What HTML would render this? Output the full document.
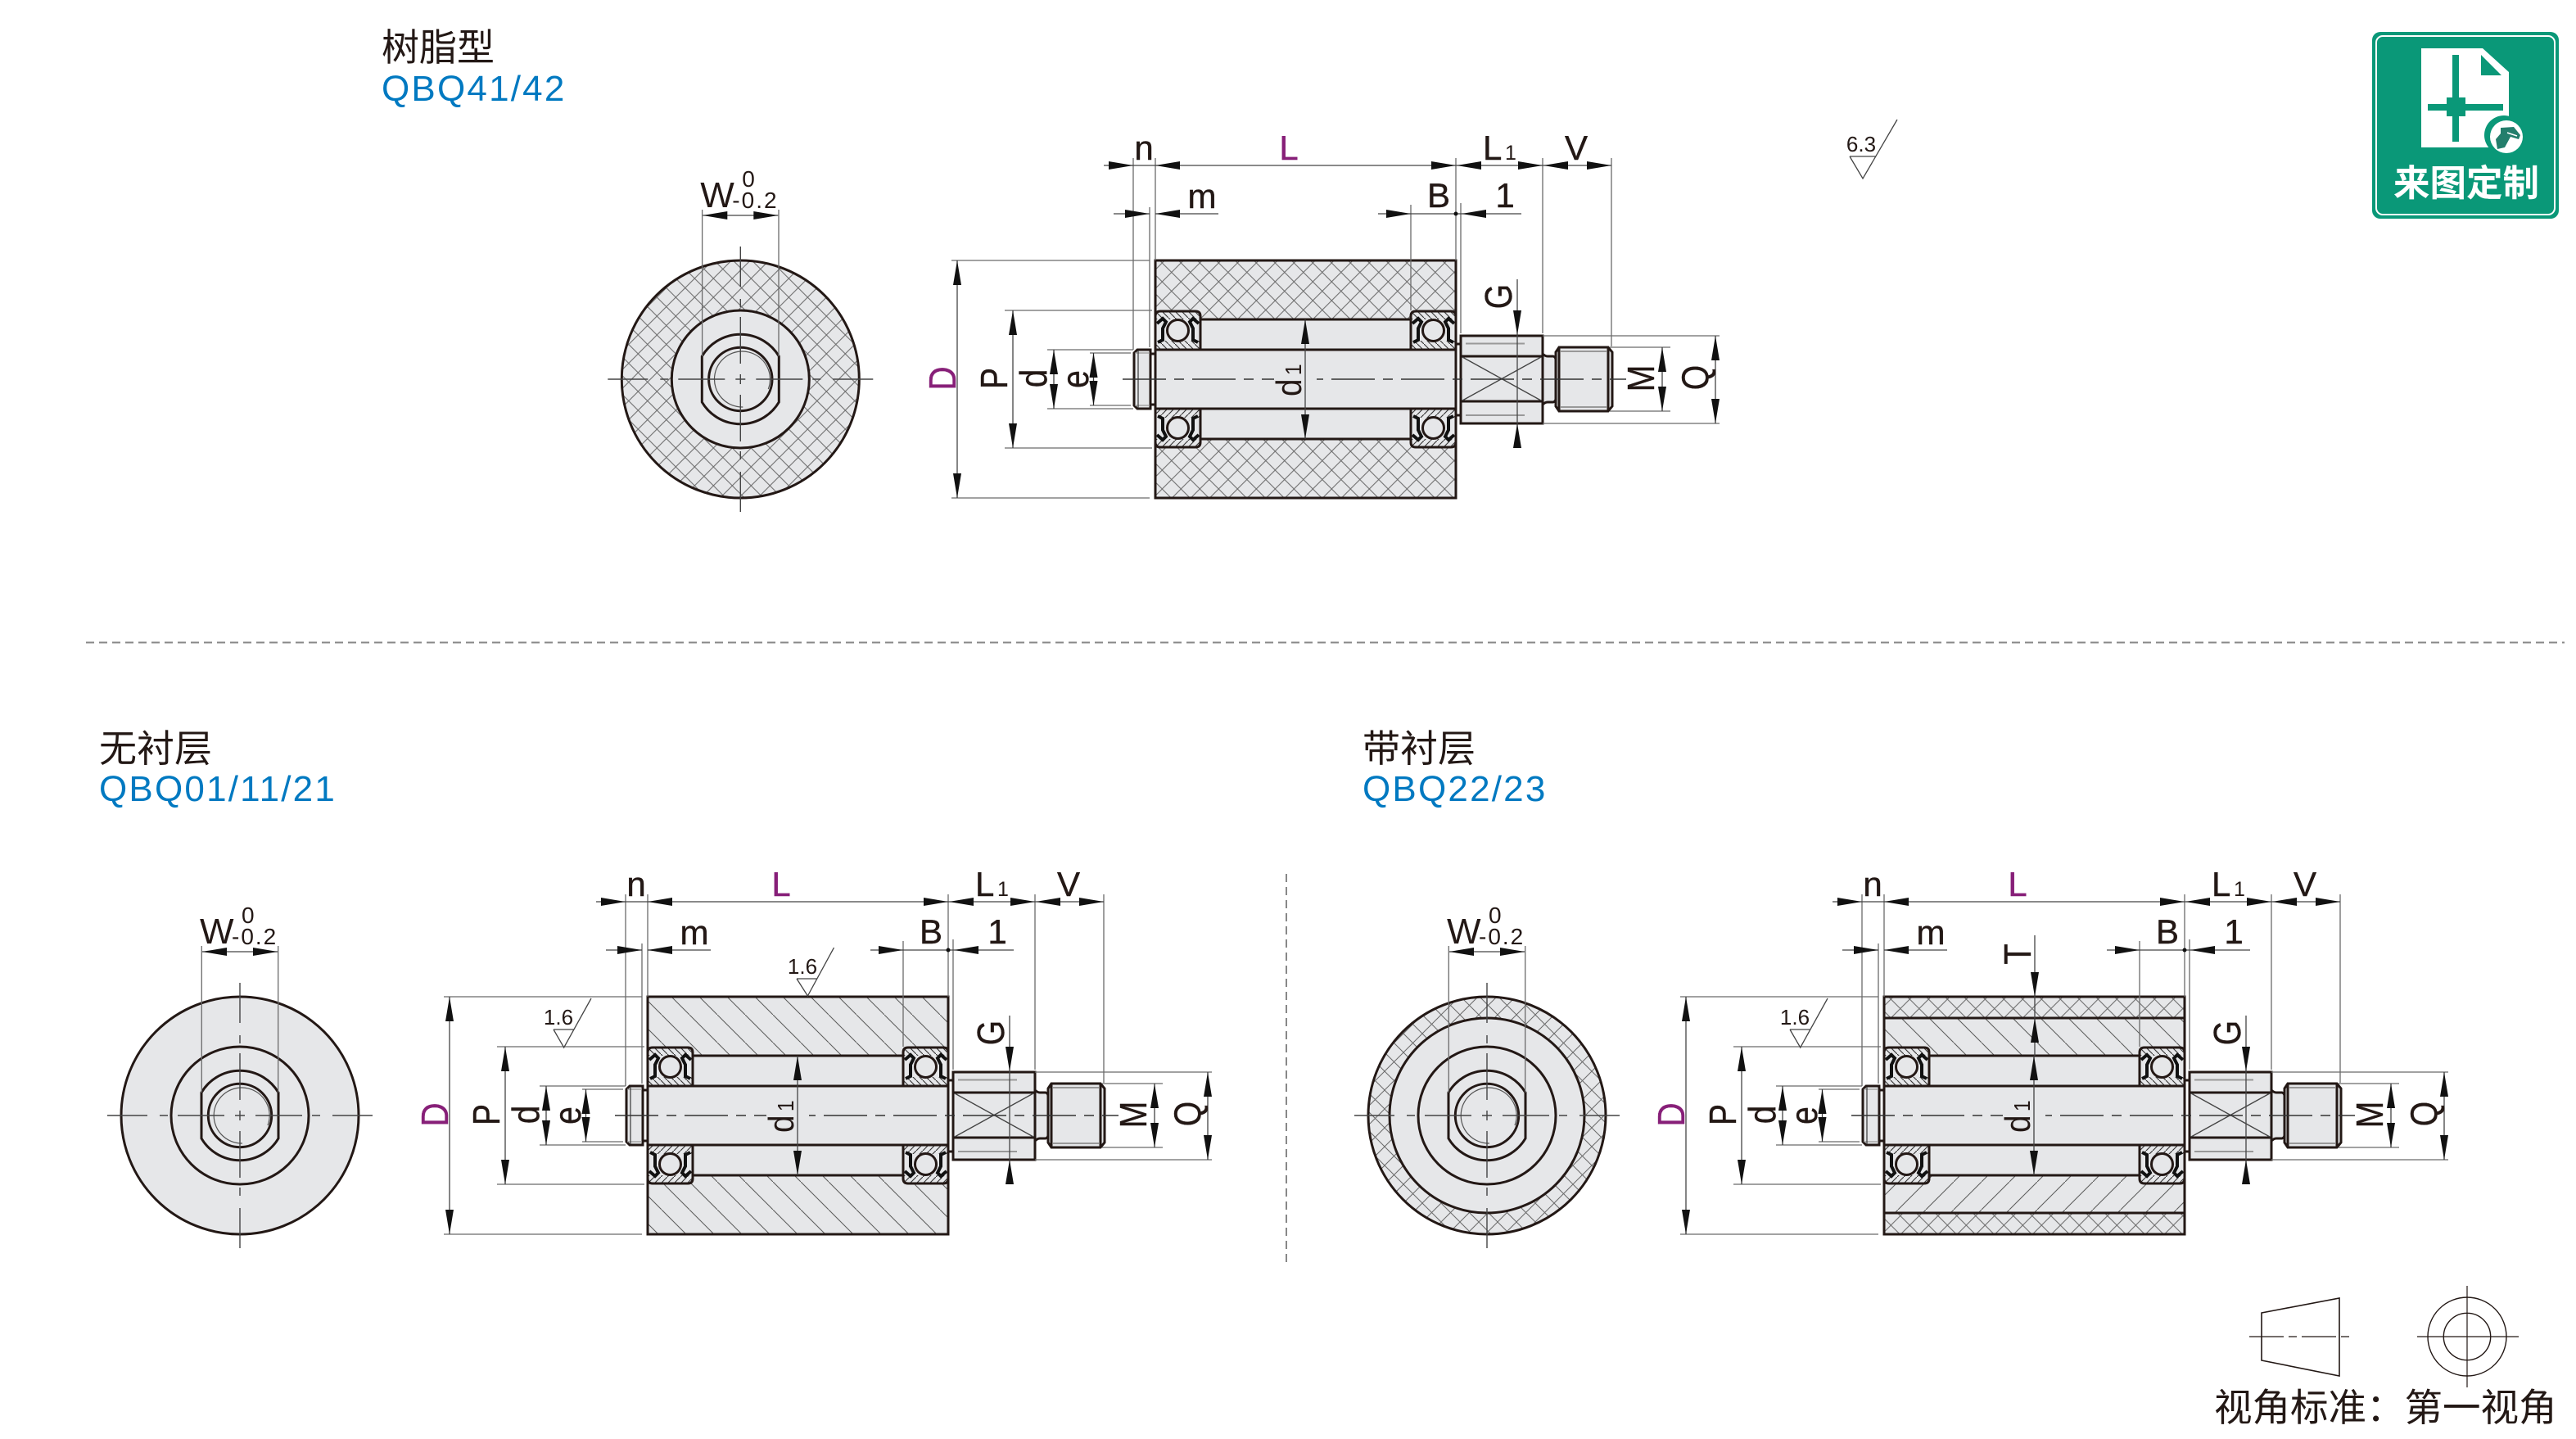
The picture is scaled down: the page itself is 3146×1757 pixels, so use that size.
<!DOCTYPE html>
<html lang="zh"><head><meta charset="utf-8"><title>QBQ</title>
<style>
html,body{margin:0;padding:0;background:#fff;width:3146px;height:1757px;overflow:hidden}
svg{display:block}
text{font-family:"Liberation Sans","Noto Sans CJK SC",sans-serif;fill:#231815}
.cn{font-size:46px}
.bl{font-size:44px;fill:#0079c1;letter-spacing:2.2px}
.h{font-size:42px;text-anchor:middle;stroke:#231815;stroke-width:.4}
.v{font-size:46px;text-anchor:middle;stroke:#231815;stroke-width:.4}
.h.p,.v.p{fill:#871f78;stroke:#871f78}
.l{font-size:42px;stroke:#231815;stroke-width:.4}
.t{stroke:#231815;stroke-width:3;fill:none}
.tf{stroke:#231815;stroke-width:3;fill:#e6e7e9}
.e{stroke:#6b6b6b;stroke-width:1.3;fill:none}
.d{stroke:#444;stroke-width:1.3;fill:none}
.g{stroke:#999;stroke-width:2;fill:none}
.ra{font-size:26px;text-anchor:middle}
</style></head><body>
<svg xmlns="http://www.w3.org/2000/svg" width="3146" height="1757" viewBox="0 0 3146 1757">
<defs>
<pattern id="x1" width="23" height="23" patternUnits="userSpaceOnUse" patternTransform="translate(1488.3,321)">
<rect width="23" height="23" fill="#e6e7e9"/><path d="M0,0L23,23M23,0L0,23" stroke="#6a6a6a" stroke-width="1"/></pattern>
<pattern id="x2" width="23" height="23" patternUnits="userSpaceOnUse" patternTransform="translate(-10,-8)">
<rect width="23" height="23" fill="#e6e7e9"/><path d="M0,0L23,23M23,0L0,23" stroke="#6a6a6a" stroke-width="1"/></pattern>
<pattern id="hb" width="34" height="34" patternUnits="userSpaceOnUse">
<rect width="34" height="34" fill="#e6e7e9"/><path d="M-2,-2L36,36" stroke="#5a5a5a" stroke-width="1"/></pattern>
<pattern id="hf" width="34" height="34" patternUnits="userSpaceOnUse">
<rect width="34" height="34" fill="#e6e7e9"/><path d="M36,-2L-2,36" stroke="#5a5a5a" stroke-width="1"/></pattern>
<pattern id="hs" width="8" height="8" patternUnits="userSpaceOnUse">
<rect width="8" height="8" fill="#e6e7e9"/><path d="M-1,-1L9,9" stroke="#333" stroke-width="1.1"/></pattern>
<path id="a" d="M0,0L30,-5L30,5Z" fill="#111"/>
<g id="br">
<path d="M0,47V6Q0,0 6,0H49Q55,0 55,6V47Z" fill="#e6e7e9"/>
<rect x="1" y="1" width="53" height="9" fill="url(#hs)"/>
<rect x="1" y="36" width="53" height="11" fill="url(#hs)"/>
<circle cx="27.5" cy="23.5" r="13" fill="#e6e7e9" stroke="#231815" stroke-width="3"/>
<path d="M2,15L9,9L13,13L9,21V35L3,38M53,15L46,9L42,13L46,21V35L52,38" fill="none" stroke="#111" stroke-width="4"/>
<path d="M0,47V6Q0,0 6,0H49Q55,0 55,6V47" class="t"/>
</g>
<g id="core">
<rect x="1466" y="390" width="257" height="146" fill="#e6e7e9"/>
<path class="t" d="M1466,390H1723M1466,536H1723"/>
<use href="#br" x="1411" y="380"/><use href="#br" x="1723" y="380"/>
<use href="#br" transform="translate(1411,546) scale(1,-1)"/><use href="#br" transform="translate(1723,546) scale(1,-1)"/>
<rect x="1411" y="427" width="367" height="72" class="tf"/>
<path class="tf" d="M1405,427H1389L1385,431V495L1389,499H1405Z"/>
<path class="t" d="M1405,432H1411M1405,494H1411"/>
<path class="g" d="M1386,431H1404M1386,495H1404" style="stroke-width:1.2"/>
<path class="d" d="M1390,428V498"/>
<path class="t" d="M1778,420H1784M1778,507H1784"/>
<path class="tf" d="M1884,432Q1887,435 1890,435H1897Q1900,436 1900,439V487Q1900,490 1897,491H1890Q1887,491 1884,494Z"/>
<path class="tf" d="M1900,430L1904,424H1964L1969,430V496L1964,502H1904L1900,496Z"/>
<path class="t" d="M1904,424V502M1964,424V502"/>
<path class="g" d="M1906,429H1962M1906,497H1962"/>
<rect x="1784" y="410" width="100" height="107" class="tf"/>
<path class="t" d="M1784,435H1884M1784,490H1884"/>
<path class="d" d="M1786,436L1882,489M1882,436L1786,489"/>
<path class="g" d="M1790,419.5H1862M1790,507H1862"/>
<path d="M1371,463H1986" stroke="#333" stroke-width="1.4" stroke-dasharray="53 10 12 10" fill="none"/>
<rect x="1556" y="459" width="52" height="8" fill="#e6e7e9"/>
<path class="e" d="M1384,193V427M1411,193V318M1404,253V424M1723,250V379M1778,193V318M1784,248V407M1884,193V407M1968,193V423M1162,318H1404M1162,608H1404M1227,379H1407M1227,547H1407M1279,427H1384M1279,499H1384M1331,431H1381M1331,495H1381M1966,424H2040M1966,502H2040M1884,410H2100M1884,517H2100"/>
<path class="d" d="M1348,202H1968M1360,261H1404M1411,261H1488M1683,261H1858M1169,318V608M1237,379V547M1287,427V499M1335.5,431V495M2030,424V502M2095,410V517M1853,341V545M1594,390V536"/>
<use href="#a" transform="translate(1384,202) rotate(180)"/><use href="#a" transform="translate(1411,202)"/>
<use href="#a" transform="translate(1778,202) rotate(180)"/><use href="#a" transform="translate(1779,202)"/>
<use href="#a" transform="translate(1884,202) rotate(180)"/><use href="#a" transform="translate(1885,202)"/>
<use href="#a" transform="translate(1968,202) rotate(180)"/>
<use href="#a" transform="translate(1404,261) rotate(180)"/><use href="#a" transform="translate(1411,261)"/>
<use href="#a" transform="translate(1723,261) rotate(180)"/><use href="#a" transform="translate(1785,261)"/>
<circle cx="1778" cy="261" r="2.5" fill="#111"/>
<use href="#a" transform="translate(1169,318) rotate(90)"/><use href="#a" transform="translate(1169,608) rotate(-90)"/>
<use href="#a" transform="translate(1237,379) rotate(90)"/><use href="#a" transform="translate(1237,547) rotate(-90)"/>
<use href="#a" transform="translate(1287,427) rotate(90)"/><use href="#a" transform="translate(1287,499) rotate(-90)"/>
<use href="#a" transform="translate(1335.5,431) rotate(90)"/><use href="#a" transform="translate(1335.5,495) rotate(-90)"/>
<use href="#a" transform="translate(1594,390) rotate(90)"/><use href="#a" transform="translate(1594,536) rotate(-90)"/>
<use href="#a" transform="translate(2030,424) rotate(90)"/><use href="#a" transform="translate(2030,502) rotate(-90)"/>
<use href="#a" transform="translate(2095,410) rotate(90)"/><use href="#a" transform="translate(2095,517) rotate(-90)"/>
<use href="#a" transform="translate(1853,409) rotate(-90)"/><use href="#a" transform="translate(1853,517) rotate(90)"/>
</g>
<g id="hole">
<path class="t" d="M-47,-28A54.7,54.7 0 0 1 47,-28V28A54.7,54.7 0 0 1 -47,28Z"/>
<circle r="38.7" class="t"/>
<path d="M34,12A34,34 0 1 0 3,34" fill="none" stroke="#555" stroke-width="1.2"/>
<path class="e" d="M-46.7,-207V-28M46.7,-207V-28"/>
<path d="M-162,0H-113M-98,0H-88M-76,0H-19M-6,0H6M19,0H76M88,0H98M113,0H162M0,-162V-113M0,-98V-88M0,-76V-19M0,-6V6M0,19V76M0,88V98M0,113V162" stroke="#444" stroke-width="1.4" fill="none"/>
<path class="d" d="M-46,-200H46"/>
<use href="#a" transform="translate(-46,-200)"/><use href="#a" transform="translate(46,-200) rotate(180)"/>
</g>
</defs>

<!-- titles -->
<text class="cn" x="466" y="74">树脂型</text>
<text class="bl" x="466" y="123">QBQ41/42</text>
<text class="cn" x="121" y="930">无衬层</text>
<text class="bl" x="121" y="978">QBQ01/11/21</text>
<text class="cn" x="1664" y="930">带衬层</text>
<text class="bl" x="1664" y="978">QBQ22/23</text>

<path d="M105,784.5H3132" stroke="#888" stroke-width="2" stroke-dasharray="10 6"/>
<path d="M1571,1067V1542" stroke="#888" stroke-width="2" stroke-dasharray="10 6"/>

<!-- front view 1 -->
<g transform="translate(904.3,463)">
<circle r="145" fill="url(#x2)" stroke="#231815" stroke-width="3"/>
<circle r="84" class="tf"/>
<use href="#hole"/>
<text x="-49" y="-210" font-size="44">W</text>
<text x="2" y="-235" font-size="28">0</text>
<text x="-10" y="-209" font-size="28" letter-spacing="2">-0.2</text>
</g>
<!-- front view 2 -->
<g transform="translate(293,1362)">
<circle r="145" class="tf"/>
<circle r="84" class="tf"/>
<use href="#hole"/>
<text x="-49" y="-210" font-size="44">W</text>
<text x="2" y="-235" font-size="28">0</text>
<text x="-10" y="-209" font-size="28" letter-spacing="2">-0.2</text>
</g>
<!-- front view 3 -->
<g transform="translate(1816,1362)">
<circle r="145" fill="url(#x2)" stroke="#231815" stroke-width="3"/>
<circle r="119" class="tf"/>
<circle r="84" class="t"/>
<use href="#hole"/>
<text x="-49" y="-210" font-size="44">W</text>
<text x="2" y="-235" font-size="28">0</text>
<text x="-10" y="-209" font-size="28" letter-spacing="2">-0.2</text>
</g>

<!-- section 1 -->
<g>
<rect x="1411" y="318" width="367" height="290" fill="url(#x1)" stroke="#231815" stroke-width="3"/>
<use href="#core"/>
<text class="h p" x="1574" y="195">L</text><text class="h" x="1397" y="195">n</text>
<text class="l" x="1811" y="195">L</text><text x="1838" y="195" font-size="25">1</text>
<text class="h" x="1925" y="195">V</text><text class="h" x="1468" y="254">m</text>
<text class="h" x="1757" y="253">B</text><text class="h" x="1838" y="253">1</text>
<text class="v p" transform="translate(1167,462) rotate(-90) scale(.88,1)">D</text>
<text class="v" transform="translate(1230,462) rotate(-90) scale(.85,1)">P</text>
<text class="v" transform="translate(1278,462) rotate(-90) scale(.88,1)">d</text>
<text class="v" transform="translate(1329,463) rotate(-90) scale(.85,1)">e</text>
<text class="v" transform="translate(1846,362) rotate(-90) scale(.85,1)">G</text>
<text class="v" transform="translate(2020,462) rotate(-90) scale(.85,1)">M</text>
<text class="v" transform="translate(2086,461) rotate(-90) scale(.85,1)">Q</text>
<text font-size="44" transform="translate(1589,484) rotate(-90) scale(.88,1)">d<tspan font-size="28" dx="5">1</tspan></text>
</g>
<!-- roughness top -->
<path class="d" d="M2259,191H2291M2259,191L2275,218L2317,146"/>
<text class="ra" x="2273" y="185">6.3</text>

<!-- section 2 -->
<g transform="translate(-620,899)">
<rect x="1411" y="318" width="367" height="290" fill="url(#hb)" stroke="#231815" stroke-width="3"/>
<use href="#core"/>
<text class="h p" x="1574" y="195">L</text><text class="h" x="1397" y="195">n</text>
<text class="l" x="1811" y="195">L</text><text x="1838" y="195" font-size="25">1</text>
<text class="h" x="1925" y="195">V</text><text class="h" x="1468" y="254">m</text>
<text class="h" x="1757" y="253">B</text><text class="h" x="1838" y="253">1</text>
<text class="v p" transform="translate(1167,462) rotate(-90) scale(.88,1)">D</text>
<text class="v" transform="translate(1230,462) rotate(-90) scale(.85,1)">P</text>
<text class="v" transform="translate(1278,462) rotate(-90) scale(.88,1)">d</text>
<text class="v" transform="translate(1329,463) rotate(-90) scale(.85,1)">e</text>
<text class="v" transform="translate(1846,362) rotate(-90) scale(.85,1)">G</text>
<text class="v" transform="translate(2020,462) rotate(-90) scale(.85,1)">M</text>
<text class="v" transform="translate(2086,461) rotate(-90) scale(.85,1)">Q</text>
<text font-size="44" transform="translate(1589,484) rotate(-90) scale(.88,1)">d<tspan font-size="28" dx="5">1</tspan></text>
</g>
<path class="d" d="M973,1195H998M973,1195L986.4,1216L1018.5,1157"/>
<text class="ra" x="980" y="1189">1.6</text>
<path class="d" d="M676,1257H701M676,1257L688.7,1279L722,1219"/>
<text class="ra" x="682" y="1251">1.6</text>

<!-- section 3 -->
<g transform="translate(890,899)">
<rect x="1411" y="318" width="367" height="26" fill="url(#x1)"/>
<rect x="1411" y="582" width="367" height="26" fill="url(#x1)"/>
<rect x="1411" y="344" width="367" height="46" fill="url(#hb)"/>
<rect x="1411" y="536" width="367" height="46" fill="url(#hf)"/>
<rect x="1411" y="318" width="367" height="290" class="t"/>
<path class="t" d="M1411,344H1778M1411,582H1778"/>
<use href="#core"/>
<path class="d" d="M1595,243V390"/>
<use href="#a" transform="translate(1595,318) rotate(-90)"/>
<use href="#a" transform="translate(1595,344) rotate(90)"/>
<text class="h p" x="1574" y="195">L</text><text class="h" x="1397" y="195">n</text>
<text class="l" x="1811" y="195">L</text><text x="1838" y="195" font-size="25">1</text>
<text class="h" x="1925" y="195">V</text><text class="h" x="1468" y="254">m</text>
<text class="h" x="1757" y="253">B</text><text class="h" x="1838" y="253">1</text>
<text class="v" transform="translate(1590,266) rotate(-90) scale(.9,1)">T</text>
<text class="v p" transform="translate(1167,462) rotate(-90) scale(.88,1)">D</text>
<text class="v" transform="translate(1230,462) rotate(-90) scale(.85,1)">P</text>
<text class="v" transform="translate(1278,462) rotate(-90) scale(.88,1)">d</text>
<text class="v" transform="translate(1329,463) rotate(-90) scale(.85,1)">e</text>
<text class="v" transform="translate(1846,362) rotate(-90) scale(.85,1)">G</text>
<text class="v" transform="translate(2020,462) rotate(-90) scale(.85,1)">M</text>
<text class="v" transform="translate(2086,461) rotate(-90) scale(.85,1)">Q</text>
<text font-size="44" transform="translate(1589,484) rotate(-90) scale(.88,1)">d<tspan font-size="28" dx="5">1</tspan></text>
</g>
<path class="d" d="M2186,1257H2211M2186,1257L2198.7,1279L2232,1219"/>
<text class="ra" x="2192" y="1251">1.6</text>

<!-- badge -->
<rect x="2897" y="39" width="228" height="228" rx="10" fill="#0a9878"/>
<rect x="2902" y="44" width="218" height="218" rx="8" fill="none" stroke="#fff" stroke-width="2"/>
<path d="M2957,59H3032L3064,88V180H2957Z" fill="#fff"/>
<path d="M3030,67V92H3055Z" fill="#0a9878"/>
<path d="M2995,67H3003V119H3011V127H3057V135H3011V142H3003V173H2995V142H2988V135H2965V127H2988V119H2995Z" fill="#0a9878"/>
<circle cx="3058" cy="165" r="24" fill="#0a9878"/>
<circle cx="3061" cy="167" r="20" fill="#fff"/>
<path d="M3054,156L3070,155L3078,165L3076,170L3066,167L3059,180L3050,182L3048,170L3054,163Z" fill="#237e6c"/>
<path d="M3062,162L3074,166" stroke="#fff" stroke-width="1.5"/>
<text x="2923" y="239" font-size="44.5" font-weight="700" style="fill:#fff">来图定制</text>

<!-- footer -->
<path d="M2762,1603L2857,1585V1680L2762,1661Z" fill="none" stroke="#231815" stroke-width="1.6"/>
<path d="M2747,1632H2871" stroke="#231815" stroke-width="1.2" stroke-dasharray="42 6 10 6" fill="none"/>
<circle cx="3013" cy="1632" r="48" fill="none" stroke="#231815" stroke-width="1.4"/>
<circle cx="3013" cy="1632" r="28.7" fill="none" stroke="#231815" stroke-width="1.4"/>
<path d="M2952,1632H3076M3013,1570V1694" stroke="#231815" stroke-width="1.2" fill="none"/>
<text x="2704" y="1735" font-size="46.5">视角标准：第一视角</text>
</svg>
</body></html>
